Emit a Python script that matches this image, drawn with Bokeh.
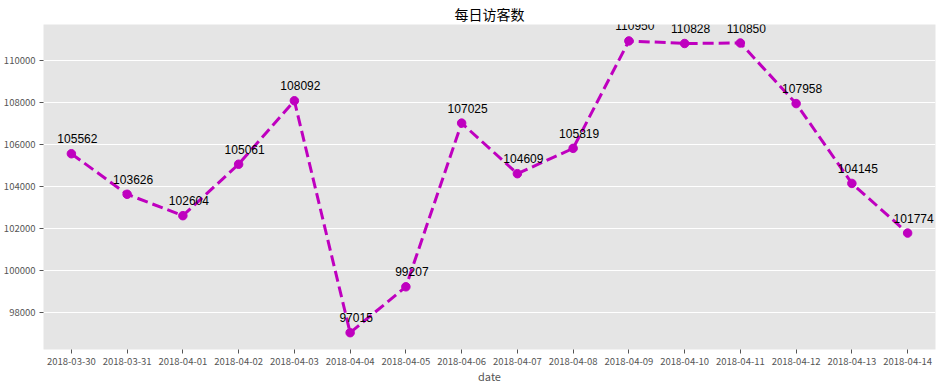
from bokeh.plotting import figure
from bokeh.models import (ColumnDataSource, Range1d, BasicTickFormatter, Label,
                          FixedTicker)
from bokeh.embed import file_html
from bokeh.resources import INLINE

dates = ["2018-03-30", "2018-03-31", "2018-04-01", "2018-04-02", "2018-04-03",
         "2018-04-04", "2018-04-05", "2018-04-06", "2018-04-07", "2018-04-08",
         "2018-04-09", "2018-04-10", "2018-04-11", "2018-04-12", "2018-04-13",
         "2018-04-14"]
visitors = [105562, 103626, 102604, 105061, 108092, 97015, 99207, 107025,
            104609, 105819, 110950, 110828, 110850, 107958, 104145, 101774]
y_ticks = [98000, 100000, 102000, 104000, 106000, 108000, 110000]

idx = list(range(len(dates)))
src = ColumnDataSource(dict(x=idx, v=visitors))

CJK = "Noto Sans CJK SC"

p = figure(x_range=Range1d(-0.5, len(dates) - 0.5),
           y_range=Range1d(96212, 111735),
           frame_width=892, frame_height=325,
           min_border_left=37, min_border_right=7, min_border_top=18, min_border_bottom=37,
           output_backend="svg", toolbar_location=None,
           title="每日访客数")

p.background_fill_color = "#E5E5E5"
p.border_fill_color = "white"
p.outline_line_color = None

p.title.align = "center"
p.title.text_font = CJK
p.title.text_font_size = "14px"
p.title.text_font_style = "normal"
p.title.text_color = "#000000"
p.title.standoff = 2

p.xgrid.grid_line_color = None
p.ygrid.grid_line_color = "white"
p.ygrid.grid_line_width = 1
p.yaxis.ticker = y_ticks
p.yaxis.formatter = BasicTickFormatter(use_scientific=False)
p.xaxis.ticker = FixedTicker(ticks=idx, minor_ticks=[])
p.xaxis.major_label_overrides = {i: d for i, d in zip(idx, dates)}

for ax in (p.xaxis[0], p.yaxis[0]):
    ax.axis_line_color = None
    ax.major_tick_line_color = "#555555"
    ax.major_tick_out = 4
    ax.major_tick_in = 0
    ax.minor_tick_line_color = None
    ax.major_label_text_font = CJK
    ax.major_label_text_font_size = "9.5px"
    ax.major_label_text_color = "#555555"
    ax.major_label_standoff = 4

p.xaxis.axis_label = "date"
p.xaxis.axis_label_text_font = CJK
p.xaxis.axis_label_text_font_size = "11px"
p.xaxis.axis_label_text_font_style = "normal"
p.xaxis.axis_label_text_color = "#555555"
p.xaxis.axis_label_standoff = 0
p.xaxis.major_label_orientation = "horizontal"

p.line("x", "v", source=src, line_color="#BF00BF", line_width=3, line_dash="11 5")
p.scatter("x", "v", source=src, size=8.5, fill_color="#BF00BF", line_color="#BF00BF")

for i, v in zip(idx, visitors):
    p.add_layout(Label(x=i, y=v, text=str(v), x_offset=6, y_offset=15,
                       text_align="center", text_baseline="alphabetic",
                       text_font="Liberation Sans", text_font_size="12px",
                       text_color="black", level="overlay"))

open("out.html", "w").write(file_html(p, INLINE))
